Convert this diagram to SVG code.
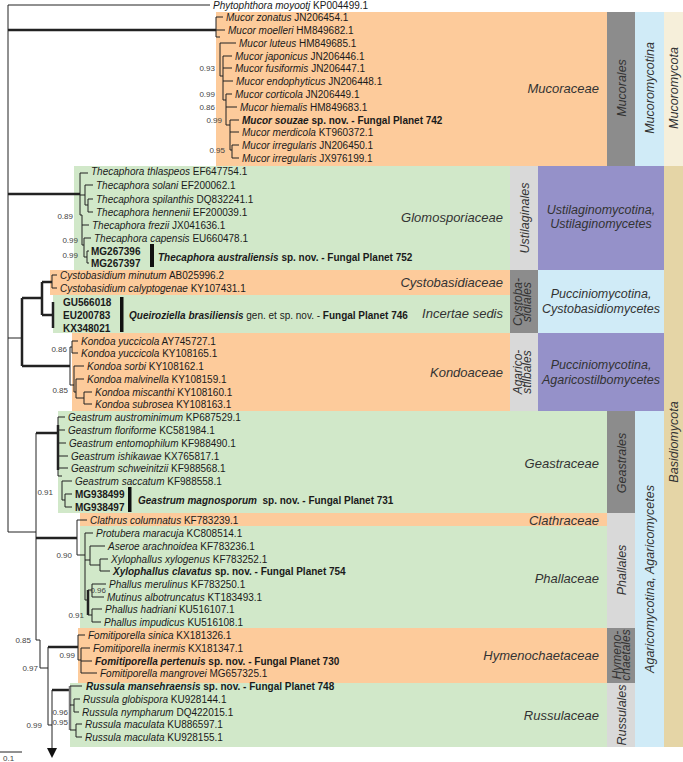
<svg xmlns="http://www.w3.org/2000/svg" width="683" height="762" viewBox="0 0 683 762">
<style>
text{font-family:"Liberation Sans",Arial,sans-serif;fill:#1a1a1a}
.l{font-size:10px}
.i{font-style:italic}
.b{font-weight:bold}
.fam{font-size:13px;font-style:italic;text-anchor:end;fill:#333}
.rot{font-size:12.5px;font-style:italic;text-anchor:middle;fill:#333}
.sub{font-size:12.5px;font-style:italic;text-anchor:middle;fill:#333}
.n{font-size:8px;text-anchor:end;fill:#444}
.or{fill:#fdcb9b}.gr{fill:#d1e8c9}.dg{fill:#8c8c8c}.lg{fill:#d9d9d9}.lb{fill:#d0ebf7}.pu{fill:#9591c9}.be{fill:#e5d5a6}.be2{fill:#f6efda}
.t line{stroke:#222;stroke-width:1}
.t .k{stroke-width:2.5}
</style>
<rect width="683" height="762" fill="#fff"/>
<g id="boxes">
<rect class="or" x="216" y="12" width="391" height="154"/>
<rect class="gr" x="74" y="166" width="436" height="104"/>
<rect class="or" x="50" y="270" width="460" height="25"/>
<rect class="gr" x="53" y="295" width="457" height="38"/>
<rect class="or" x="72" y="333" width="438" height="78"/>
<rect class="gr" x="58" y="411" width="549" height="102"/>
<rect class="or" x="80" y="513" width="527" height="13"/>
<rect class="gr" x="80" y="526" width="527" height="102"/>
<rect class="or" x="78" y="628" width="529" height="55"/>
<rect class="gr" x="70" y="683" width="537" height="64"/>
</g>
<g id="columns">
<rect class="dg" x="607" y="12" width="28" height="154"/>
<rect class="lb" x="635" y="12" width="29" height="154"/>
<rect class="be2" x="664" y="12" width="19" height="154"/>
<rect class="lg" x="510" y="166" width="28" height="104"/>
<rect class="pu" x="538" y="166" width="126" height="104"/>
<rect class="dg" x="510" y="270" width="28" height="63"/>
<rect class="lb" x="538" y="270" width="126" height="63"/>
<rect class="lg" x="510" y="333" width="28" height="78"/>
<rect class="pu" x="538" y="333" width="126" height="78"/>
<rect class="dg" x="607" y="411" width="28" height="102"/>
<rect class="lg" x="607" y="513" width="28" height="115"/>
<rect class="dg" x="607" y="628" width="28" height="55"/>
<rect class="lg" x="607" y="683" width="28" height="64"/>
<rect class="lb" x="635" y="411" width="29" height="336"/>
<rect class="be" x="664" y="166" width="19" height="581"/>
</g>
<g id="connectors" class="t">
<line x1="8" y1="5" x2="8" y2="532"/>
<line x1="8" y1="5" x2="210" y2="5"/>
<line class="k" x1="8" y1="30" x2="216" y2="30"/>
<line class="k" x1="8" y1="194" x2="80" y2="194"/>
<line x1="8" y1="338" x2="22" y2="338"/>
<line x1="8" y1="532" x2="36" y2="532"/>
<line x1="216" y1="17" x2="216" y2="37"/>
<line x1="216" y1="17" x2="223" y2="17"/>
<line x1="216" y1="30" x2="225" y2="30"/>
<line x1="216" y1="37" x2="220" y2="37"/>
<line x1="220" y1="43" x2="220" y2="76"/>
<line x1="220" y1="43" x2="236" y2="43"/>
<line x1="220" y1="76" x2="223" y2="76"/>
<line x1="223" y1="56" x2="223" y2="100"/>
<line x1="223" y1="56" x2="232" y2="56"/>
<line x1="223" y1="68" x2="232" y2="68"/>
<line x1="223" y1="81" x2="233" y2="81"/>
<line x1="223" y1="100" x2="226" y2="100"/>
<line x1="226" y1="94" x2="226" y2="125"/>
<line x1="226" y1="94" x2="232" y2="94"/>
<line x1="226" y1="107" x2="237" y2="107"/>
<line x1="226" y1="125" x2="230" y2="125"/>
<line x1="230" y1="120" x2="230" y2="150"/>
<line x1="230" y1="120" x2="239" y2="120"/>
<line x1="230" y1="132" x2="239" y2="132"/>
<line x1="230" y1="150" x2="232" y2="150"/>
<line x1="232" y1="145" x2="232" y2="158"/>
<line x1="232" y1="145" x2="239" y2="145"/>
<line x1="232" y1="158" x2="239" y2="158"/>
<line x1="80" y1="173" x2="80" y2="215"/>
<line x1="80" y1="173" x2="88" y2="173"/>
<line x1="80" y1="195" x2="85" y2="195"/>
<line x1="85" y1="185" x2="85" y2="205"/>
<line x1="85" y1="185" x2="93" y2="185"/>
<line x1="85" y1="205" x2="88" y2="205"/>
<line x1="88" y1="199" x2="88" y2="212"/>
<line x1="88" y1="199" x2="93" y2="199"/>
<line x1="88" y1="212" x2="93" y2="212"/>
<line x1="80" y1="215" x2="82" y2="215"/>
<line x1="82" y1="215" x2="82" y2="245"/>
<line x1="82" y1="225" x2="89" y2="225"/>
<line x1="82" y1="245" x2="84" y2="245"/>
<line x1="84" y1="238" x2="84" y2="257"/>
<line x1="84" y1="238" x2="91" y2="238"/>
<line x1="84" y1="257" x2="87" y2="257"/>
<line x1="87" y1="251" x2="87" y2="263"/>
<line x1="87" y1="251" x2="89" y2="251"/>
<line x1="87" y1="263" x2="89" y2="263"/>
<line class="k" x1="22" y1="298" x2="22" y2="366"/>
<line class="k" x1="22" y1="298" x2="42" y2="298"/>
<line class="k" x1="42" y1="282" x2="42" y2="315"/>
<line class="k" x1="42" y1="282" x2="52" y2="282"/>
<line x1="52" y1="275" x2="52" y2="288"/>
<line x1="52" y1="275" x2="57" y2="275"/>
<line x1="52" y1="288" x2="57" y2="288"/>
<line class="k" x1="42" y1="315" x2="53" y2="315"/>
<line class="k" x1="53" y1="302" x2="53" y2="328"/>
<line class="k" x1="22" y1="366" x2="70" y2="366"/>
<line x1="70" y1="347" x2="70" y2="385"/>
<line x1="70" y1="347" x2="72" y2="347"/>
<line x1="72" y1="341" x2="72" y2="353"/>
<line x1="72" y1="341" x2="78" y2="341"/>
<line x1="72" y1="353" x2="78" y2="353"/>
<line x1="70" y1="385" x2="74" y2="385"/>
<line x1="74" y1="366" x2="74" y2="392"/>
<line x1="74" y1="366" x2="84" y2="366"/>
<line x1="74" y1="392" x2="76" y2="392"/>
<line x1="76" y1="379" x2="76" y2="398"/>
<line x1="76" y1="379" x2="84" y2="379"/>
<line x1="76" y1="398" x2="84" y2="398"/>
<line x1="84" y1="392" x2="84" y2="404"/>
<line x1="84" y1="392" x2="92" y2="392"/>
<line x1="84" y1="404" x2="92" y2="404"/>
<line x1="36" y1="433" x2="36" y2="640"/>
<line class="k" x1="36" y1="433" x2="58" y2="433"/>
<line x1="58" y1="417" x2="58" y2="476"/>
<line class="k" x1="58" y1="425" x2="58" y2="470"/>
<line x1="58" y1="417" x2="65" y2="417"/>
<line x1="58" y1="430" x2="65" y2="430"/>
<line x1="58" y1="443" x2="66" y2="443"/>
<line x1="58" y1="456" x2="68" y2="456"/>
<line x1="58" y1="468" x2="68" y2="468"/>
<line x1="58" y1="476" x2="62" y2="476"/>
<line x1="62" y1="481" x2="62" y2="500"/>
<line x1="62" y1="481" x2="72" y2="481"/>
<line x1="62" y1="500" x2="65" y2="500"/>
<line x1="65" y1="494" x2="65" y2="507"/>
<line x1="65" y1="494" x2="72" y2="494"/>
<line x1="65" y1="507" x2="72" y2="507"/>
<line class="k" x1="36" y1="538" x2="77" y2="538"/>
<line x1="77" y1="520" x2="77" y2="555"/>
<line x1="77" y1="520" x2="87" y2="520"/>
<line x1="77" y1="555" x2="85" y2="555"/>
<line x1="85" y1="533" x2="85" y2="600"/>
<line x1="85" y1="533" x2="93" y2="533"/>
<line x1="85" y1="560" x2="90" y2="560"/>
<line x1="90" y1="546" x2="90" y2="565"/>
<line x1="90" y1="546" x2="105" y2="546"/>
<line x1="90" y1="565" x2="100" y2="565"/>
<line x1="100" y1="559" x2="100" y2="571"/>
<line x1="100" y1="559" x2="108" y2="559"/>
<line x1="100" y1="571" x2="110" y2="571"/>
<line x1="85" y1="600" x2="88" y2="600"/>
<line class="k" x1="88" y1="590" x2="88" y2="615"/>
<line x1="88" y1="590" x2="92" y2="590"/>
<line x1="92" y1="584" x2="92" y2="597"/>
<line x1="92" y1="584" x2="106" y2="584"/>
<line x1="92" y1="597" x2="104" y2="597"/>
<line x1="88" y1="615" x2="92" y2="615"/>
<line x1="92" y1="609" x2="92" y2="622"/>
<line x1="92" y1="609" x2="102" y2="609"/>
<line x1="92" y1="622" x2="101" y2="622"/>
<line x1="36" y1="640" x2="40" y2="640"/>
<line x1="40" y1="640" x2="40" y2="668"/>
<line x1="40" y1="668" x2="48" y2="668"/>
<line x1="48" y1="647" x2="48" y2="725"/>
<line class="k" x1="48" y1="647" x2="78" y2="647"/>
<line x1="78" y1="635" x2="78" y2="660"/>
<line x1="78" y1="635" x2="85" y2="635"/>
<line x1="78" y1="660" x2="81" y2="660"/>
<line x1="81" y1="648" x2="81" y2="673"/>
<line x1="81" y1="648" x2="90" y2="648"/>
<line x1="81" y1="661" x2="92" y2="661"/>
<line x1="81" y1="673" x2="97" y2="673"/>
<line x1="48" y1="725" x2="52" y2="725"/>
<line x1="52" y1="690" x2="52" y2="750"/>
<polygon points="47,748 57,748 52,758" fill="#111"/>
<line class="k" x1="52" y1="690" x2="70" y2="690"/>
<line class="k" x1="70" y1="686" x2="70" y2="730" style="stroke:#777"/>
<line x1="70" y1="686" x2="82" y2="686"/>
<line x1="70" y1="705" x2="74" y2="705"/>
<line x1="74" y1="699" x2="74" y2="712"/>
<line x1="74" y1="699" x2="80" y2="699"/>
<line x1="74" y1="712" x2="79" y2="712"/>
<line x1="70" y1="730" x2="76" y2="730"/>
<line x1="76" y1="724" x2="76" y2="737"/>
<line x1="76" y1="724" x2="82" y2="724"/>
<line x1="76" y1="737" x2="82" y2="737"/>
<rect x="150" y="244" width="4" height="23" fill="#111"/>
<rect x="120" y="297" width="3.5" height="35" fill="#111"/>
<rect x="128" y="487" width="3.5" height="25" fill="#111"/>
<line x1="0" y1="752" x2="22" y2="752"/>
</g>
<g id="supports">
<text class="n" x="215" y="71">0.93</text>
<text class="n" x="215" y="97">0.99</text>
<text class="n" x="215" y="110">0.86</text>
<text class="n" x="222" y="123">0.99</text>
<text class="n" x="225" y="153">0.95</text>
<text class="n" x="73" y="219">0.89</text>
<text class="n" x="78" y="243">0.99</text>
<text class="n" x="78" y="258">0.99</text>
<text class="n" x="67" y="352">0.86</text>
<text class="n" x="68" y="393">0.85</text>
<text class="n" x="53" y="495">0.91</text>
<text class="n" x="72" y="558">0.90</text>
<text class="n" x="106" y="593">0.96</text>
<text class="n" x="84" y="618">0.91</text>
<text class="n" x="31" y="643">0.85</text>
<text class="n" x="38" y="671">0.97</text>
<text class="n" x="75" y="658">0.99</text>
<text class="n" x="42" y="728">0.99</text>
<text class="n" x="68" y="715">0.96</text>
<text class="n" x="68" y="725">0.95</text>
<text x="3" y="761" style="font-size:8px;fill:#444">0.1</text>
</g>
<g id="leaves" class="l">
<text class="l" x="213" y="9"><tspan class="i">Phytophthora moyootj</tspan> KP004499.1</text>
<text class="l" x="226" y="21"><tspan class="i">Mucor zonatus</tspan> JN206454.1</text>
<text class="l" x="228" y="34"><tspan class="i">Mucor moelleri</tspan> HM849682.1</text>
<text class="l" x="239" y="47"><tspan class="i">Mucor luteus</tspan> HM849685.1</text>
<text class="l" x="235" y="60"><tspan class="i">Mucor japonicus</tspan> JN206446.1</text>
<text class="l" x="235" y="72"><tspan class="i">Mucor fusiformis</tspan> JN206447.1</text>
<text class="l" x="236" y="85"><tspan class="i">Mucor endophyticus</tspan> JN206448.1</text>
<text class="l" x="235" y="98"><tspan class="i">Mucor corticola</tspan> JN206449.1</text>
<text class="l" x="240" y="111"><tspan class="i">Mucor hiemalis</tspan> HM849683.1</text>
<text class="l b" x="242" y="124"><tspan class="i">Mucor souzae</tspan> sp. nov. - Fungal Planet 742</text>
<text class="l" x="242" y="136"><tspan class="i">Mucor merdicola</tspan> KT960372.1</text>
<text class="l" x="242" y="149"><tspan class="i">Mucor irregularis</tspan> JN206450.1</text>
<text class="l" x="242" y="162"><tspan class="i">Mucor irregularis</tspan> JX976199.1</text>
<text class="l" x="91" y="175"><tspan class="i">Thecaphora thlaspeos</tspan> EF647754.1</text>
<text class="l" x="96" y="189"><tspan class="i">Thecaphora solani</tspan> EF200062.1</text>
<text class="l" x="96" y="203"><tspan class="i">Thecaphora spilanthis</tspan> DQ832241.1</text>
<text class="l" x="96" y="216"><tspan class="i">Thecaphora hennenii</tspan> EF200039.1</text>
<text class="l" x="92" y="229"><tspan class="i">Thecaphora frezii</tspan> JX041636.1</text>
<text class="l" x="94" y="242"><tspan class="i">Thecaphora capensis</tspan> EU660478.1</text>
<text class="l b" x="91" y="255">MG267396</text>
<text class="l b" x="91" y="267">MG267397</text>
<text class="l b" x="158" y="261"><tspan class="i">Thecaphora australiensis</tspan> sp. nov. - Fungal Planet 752</text>
<text class="l" x="60" y="279"><tspan class="i">Cystobasidium minutum</tspan> AB025996.2</text>
<text class="l" x="60" y="292"><tspan class="i">Cystobasidium calyptogenae</tspan> KY107431.1</text>
<text class="l b" x="63" y="306">GU566018</text>
<text class="l b" x="63" y="319">EU200783</text>
<text class="l b" x="63" y="332">KX348021</text>
<text class="l" x="129" y="319"><tspan class="b i">Queiroziella brasiliensis</tspan> gen. et sp. nov. - <tspan class="b">Fungal Planet 746</tspan></text>
<text class="l" x="81" y="345"><tspan class="i">Kondoa yuccicola</tspan> AY745727.1</text>
<text class="l" x="81" y="357"><tspan class="i">Kondoa yuccicola</tspan> KY108165.1</text>
<text class="l" x="87" y="370"><tspan class="i">Kondoa sorbi</tspan> KY108162.1</text>
<text class="l" x="87" y="383"><tspan class="i">Kondoa malvinella</tspan> KY108159.1</text>
<text class="l" x="95" y="396"><tspan class="i">Kondoa miscanthi</tspan> KY108160.1</text>
<text class="l" x="95" y="408"><tspan class="i">Kondoa subrosea</tspan> KY108163.1</text>
<text class="l" x="68" y="421"><tspan class="i">Geastrum austrominimum</tspan> KP687529.1</text>
<text class="l" x="68" y="434"><tspan class="i">Geastrum floriforme</tspan> KC581984.1</text>
<text class="l" x="69" y="447"><tspan class="i">Geastrum entomophilum</tspan> KF988490.1</text>
<text class="l" x="71" y="460"><tspan class="i">Geastrum ishikawae</tspan> KX765817.1</text>
<text class="l" x="71" y="472"><tspan class="i">Geastrum schweinitzii</tspan> KF988568.1</text>
<text class="l" x="75" y="485"><tspan class="i">Geastrum saccatum</tspan> KF988558.1</text>
<text class="l b" x="75" y="498">MG938499</text>
<text class="l b" x="75" y="511">MG938497</text>
<text class="l b" x="138" y="504"><tspan class="i">Geastrum magnosporum</tspan>&#160; sp. nov. - Fungal Planet 731</text>
<text class="l" x="90" y="524"><tspan class="i">Clathrus columnatus</tspan> KF783239.1</text>
<text class="l" x="96" y="537"><tspan class="i">Protubera maracuja</tspan> KC808514.1</text>
<text class="l" x="108" y="550"><tspan class="i">Aseroe arachnoidea</tspan> KF783236.1</text>
<text class="l" x="111" y="563"><tspan class="i">Xylophallus xylogenus</tspan> KF783252.1</text>
<text class="l b" x="113" y="575"><tspan class="i">Xylophallus clavatus</tspan> sp. nov. - Fungal Planet 754</text>
<text class="l" x="109" y="588"><tspan class="i">Phallus merulinus</tspan> KF783250.1</text>
<text class="l" x="107" y="601"><tspan class="i">Mutinus albotruncatus</tspan> KT183493.1</text>
<text class="l" x="105" y="613"><tspan class="i">Phallus hadriani</tspan> KU516107.1</text>
<text class="l" x="104" y="626"><tspan class="i">Phallus impudicus</tspan> KU516108.1</text>
<text class="l" x="88" y="639"><tspan class="i">Fomitiporella sinica</tspan> KX181326.1</text>
<text class="l" x="93" y="652"><tspan class="i">Fomitiporella inermis</tspan> KX181347.1</text>
<text class="l b" x="95" y="665"><tspan class="i">Fomitiporella pertenuis</tspan> sp. nov. - Fungal Planet 730</text>
<text class="l" x="100" y="677"><tspan class="i">Fomitiporella mangrovei</tspan> MG657325.1</text>
<text class="l b" x="86" y="690"><tspan class="i">Russula mansehraensis</tspan> sp. nov. - Fungal Planet 748</text>
<text class="l" x="83" y="703"><tspan class="i">Russula globispora</tspan> KU928144.1</text>
<text class="l" x="82" y="716"><tspan class="i">Russula nympharum</tspan> DQ422015.1</text>
<text class="l" x="85" y="728"><tspan class="i">Russula maculata</tspan> KU886597.1</text>
<text class="l" x="85" y="741"><tspan class="i">Russula maculata</tspan> KU928155.1</text>
</g>
<g id="families">
<text class="fam" x="599" y="93">Mucoraceae</text>
<text class="fam" x="503" y="222">Glomosporiaceae</text>
<text class="fam" x="503" y="287">Cystobasidiaceae</text>
<text class="fam" x="503" y="318">Incertae sedis</text>
<text class="fam" x="503" y="377">Kondoaceae</text>
<text class="fam" x="599" y="468">Geastraceae</text>
<text class="fam" x="599" y="525">Clathraceae</text>
<text class="fam" x="599" y="583">Phallaceae</text>
<text class="fam" x="599" y="660">Hymenochaetaceae</text>
<text class="fam" x="599" y="720">Russulaceae</text>
</g>
<g id="orders">
<text class="rot" transform="translate(625.5,88) rotate(-90)">Mucorales</text>
<text class="rot" transform="translate(653.5,88) rotate(-90)">Mucoromycotina</text>
<text class="rot" transform="translate(678,88) rotate(-90)">Mucoromycota</text>
<text class="rot" transform="translate(528.5,218) rotate(-90)">Ustilaginales</text>
<text class="rot" style="font-size:12px" transform="translate(522,302) rotate(-90)">Cystoba-</text>
<text class="rot" style="font-size:12px" transform="translate(531,302) rotate(-90)">sidiales</text>
<text class="rot" style="font-size:12px" transform="translate(522,372) rotate(-90)">Agarico-</text>
<text class="rot" style="font-size:12px" transform="translate(531,372) rotate(-90)">stilbales</text>
<text class="rot" transform="translate(625.5,463) rotate(-90)">Geastrales</text>
<text class="rot" transform="translate(625.5,570) rotate(-90)">Phallales</text>
<text class="rot" style="font-size:12px" transform="translate(621,655) rotate(-90)">Hymeno-</text>
<text class="rot" style="font-size:12px" transform="translate(630,655) rotate(-90)">chaetales</text>
<text class="rot" transform="translate(625.5,715) rotate(-90)">Russulales</text>
<text class="rot" transform="translate(653.5,579) rotate(-90)">Agaricomycotina, Agaricomycetes</text>
<text class="rot" transform="translate(678,442) rotate(-90)">Basidiomycota</text>
</g>
<g id="subphyla">
<text class="sub" x="601" y="214">Ustilaginomycotina,</text>
<text class="sub" x="601" y="228">Ustilaginomycetes</text>
<text class="sub" x="601" y="298">Pucciniomycotina,</text>
<text class="sub" x="601" y="313">Cystobasidiomycetes</text>
<text class="sub" x="601" y="369">Pucciniomycotina,</text>
<text class="sub" x="601" y="384">Agaricostilbomycetes</text>
</g>
</svg>
